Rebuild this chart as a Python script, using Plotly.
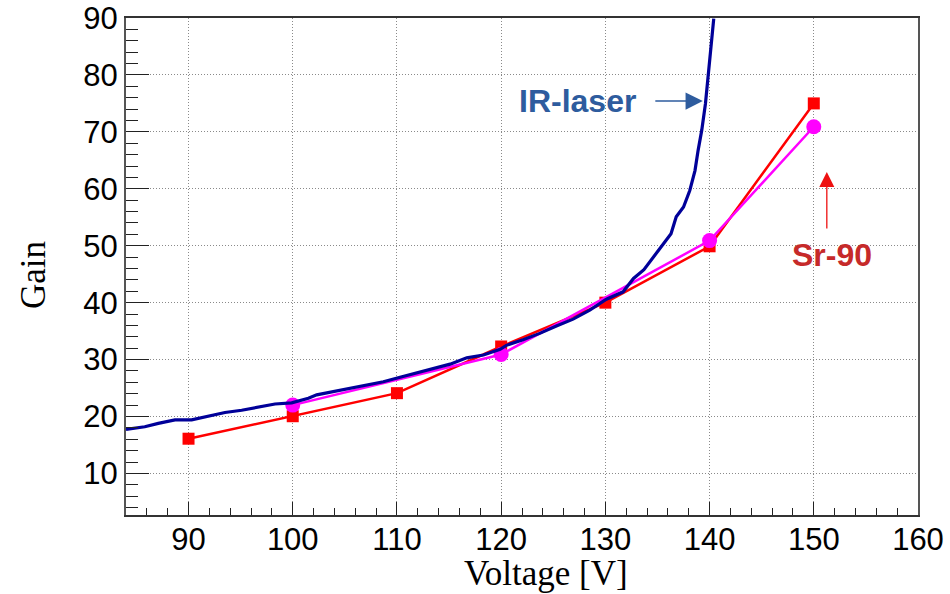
import plotly.graph_objects as go

# IR-laser gain scan (continuous measurement)
ir_voltage = [84.0, 85.8, 87.1, 88.7, 90.3, 91.9, 93.5, 95.1, 96.7, 98.3, 99.9,
              101.5, 102.3, 103.9, 105.5, 107.1, 108.7, 110.3, 111.9, 113.5,
              115.1, 116.7, 118.3, 119.9, 120.5, 122.1, 123.7, 125.3, 126.9,
              128.5, 130.1, 131.7, 132.7, 133.7, 134.6, 135.6, 136.3, 136.8,
              137.5, 138.1, 138.6, 138.9, 139.25, 139.6, 139.8, 140.0, 140.2, 140.4]
ir_gain = [17.75, 18.2, 18.8, 19.4, 19.4, 20.0, 20.7, 21.1, 21.6, 22.2, 22.4,
           23.2, 23.8, 24.35, 24.95, 25.5, 26.1, 26.9, 27.7, 28.45,
           29.2, 30.3, 30.8, 31.8, 32.5, 33.5, 34.6, 35.9, 37.1,
           38.7, 40.6, 41.9, 44.25, 45.8, 48.0, 50.4, 52.1, 55.1,
           56.8, 59.7, 63.2, 66.75, 70.3, 74.9, 78.5, 83.1, 86.6, 89.9]

# Sr-90 source measurements
sr_voltage_a = [90, 100, 110, 120, 130, 140, 150]
sr_gain_a = [16.1, 20.05, 24.1, 32.3, 40.0, 49.9, 75.0]

sr_voltage_b = [100, 120, 140, 150]
sr_gain_b = [22.0, 30.9, 50.9, 70.9]

tick_font = dict(family="Liberation Sans, Arial, sans-serif", size=31, color="#000000")
title_font = dict(family="Liberation Serif, Times New Roman, serif", size=35, color="#000000")
label_font = "Liberation Sans, Arial, sans-serif"

fig = go.Figure()

fig.add_trace(go.Scatter(
    x=sr_voltage_a, y=sr_gain_a, mode="lines+markers",
    line=dict(color="#ff0000", width=2.5),
    marker=dict(symbol="square", size=12, color="#ff0000"),
    showlegend=False,
))
fig.add_trace(go.Scatter(
    x=sr_voltage_b, y=sr_gain_b, mode="lines+markers",
    line=dict(color="#ff00ff", width=2.5),
    marker=dict(symbol="circle", size=15, color="#ff00ff"),
    showlegend=False,
))
fig.add_trace(go.Scatter(
    x=ir_voltage, y=ir_gain, mode="lines",
    line=dict(color="#000099", width=3.2),
    showlegend=False,
))

# labels with arrows
fig.add_annotation(x=127.3, y=75.35, xref="x", yref="y", text="<b>IR-laser</b>",
                   showarrow=False, font=dict(family=label_font, size=32, color="#2e5c9e"))
fig.add_annotation(x=139.35, y=75.4, xref="x", yref="y", text="", showarrow=True,
                   ax=-49, ay=0, arrowhead=2, arrowsize=2.3, arrowwidth=1.5,
                   arrowcolor="#2e5c9e", standoff=0)
fig.add_annotation(x=151.75, y=48.3, xref="x", yref="y", text="<b>Sr-90</b>",
                   showarrow=False, font=dict(family=label_font, size=32, color="#c62a2a"))
fig.add_annotation(x=151.25, y=62.95, xref="x", yref="y", text="", showarrow=True,
                   ax=0, ay=58, arrowhead=2, arrowsize=2.3, arrowwidth=1.3,
                   arrowcolor="#ee1111", standoff=0)

# axis titles
fig.add_annotation(x=0.530, y=-0.117, xref="paper", yref="paper", text="Voltage [V]",
                   showarrow=False, xanchor="center", yanchor="middle", font=title_font)
fig.add_annotation(x=-0.116, y=0.483, xref="paper", yref="paper", text="Gain",
                   showarrow=False, textangle=-90, xanchor="center", yanchor="middle",
                   font=title_font)

fig.update_layout(
    width=950, height=594,
    margin=dict(l=126, r=32, t=18, b=79),
    paper_bgcolor="white", plot_bgcolor="white",
)
fig.update_xaxes(
    range=[84, 160], dtick=10, tick0=0,
    ticks="inside", ticklen=13, tickwidth=1, tickcolor="#222",
    minor=dict(dtick=2, ticks="inside", ticklen=7, tickcolor="#222", showgrid=False),
    showline=True, linewidth=2, linecolor="#333", mirror=True,
    showgrid=True, gridcolor="#8a8a8a", gridwidth=1, griddash="1px,2px",
    zeroline=False, tickfont=tick_font, ticklabelstandoff=-4, automargin=False,
)
fig.update_yaxes(
    range=[2.7, 90], dtick=10, tick0=0,
    ticks="inside", ticklen=23, tickwidth=1, tickcolor="#222",
    minor=dict(dtick=2, ticks="inside", ticklen=12, tickcolor="#222", showgrid=False),
    showline=True, linewidth=2, linecolor="#555", mirror=True,
    showgrid=True, gridcolor="#8a8a8a", gridwidth=1, griddash="1px,2px",
    zeroline=False, tickfont=tick_font, automargin=False,
)

fig.write_html("out.html")
